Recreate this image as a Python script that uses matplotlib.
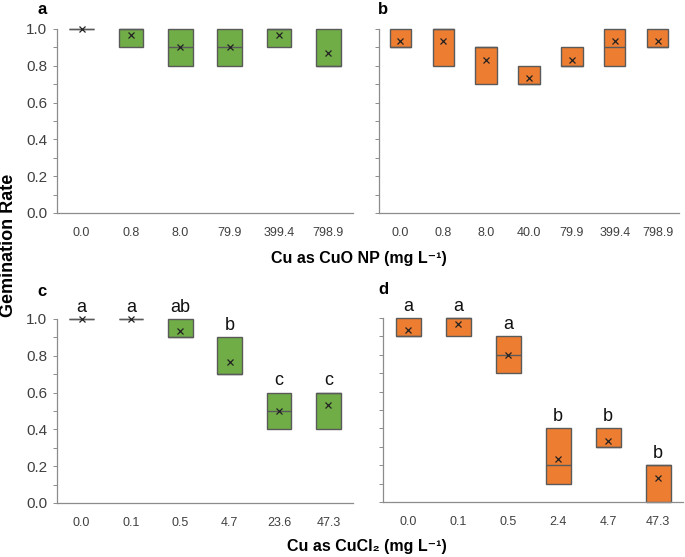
import matplotlib
matplotlib.use("Agg")
import matplotlib.pyplot as plt
from matplotlib.ticker import MultipleLocator
import numpy as np

plt.rcParams['font.family'] = ['Liberation Sans', 'DejaVu Sans']

# ---- data ----
cats_a = ["0.0", "0.8", "8.0", "79.9", "399.4", "798.9"]
q1_a = [1.0, 0.9, 0.8, 0.8, 0.9, 0.8]
med_a = [1.0, 1.0, 0.9, 0.9, 1.0, 0.8]
q3_a = [1.0, 1.0, 1.0, 1.0, 1.0, 1.0]
mean_a = [1.0, 0.967, 0.9, 0.9, 0.967, 0.867]

cats_b = ["0.0", "0.8", "8.0", "40.0", "79.9", "399.4", "798.9"]
q1_b = [0.9, 0.8, 0.7, 0.7, 0.8, 0.8, 0.9]
med_b = [0.9, 1.0, 0.9, 0.7, 0.8, 0.9, 0.9]
q3_b = [1.0, 1.0, 0.9, 0.8, 0.9, 1.0, 1.0]
mean_b = [0.933, 0.933, 0.833, 0.733, 0.833, 0.933, 0.933]

cats_c = ["0.0", "0.1", "0.5", "4.7", "23.6", "47.3"]
q1_c = [1.0, 1.0, 0.9, 0.7, 0.4, 0.4]
med_c = [1.0, 1.0, 0.9, 0.7, 0.5, 0.6]
q3_c = [1.0, 1.0, 1.0, 0.9, 0.6, 0.6]
mean_c = [1.0, 1.0, 0.933, 0.767, 0.5, 0.533]
letters_c = ["a", "a", "ab", "b", "c", "c"]

cats_d = ["0.0", "0.1", "0.5", "2.4", "4.7", "47.3"]
q1_d = [0.9, 0.9, 0.7, 0.1, 0.3, 0.0]
med_d = [0.9, 1.0, 0.8, 0.2, 0.3, 0.2]
q3_d = [1.0, 1.0, 0.9, 0.4, 0.4, 0.2]
mean_d = [0.933, 0.967, 0.8, 0.233, 0.333, 0.133]
letters_d = ["a", "a", "a", "b", "b", "b"]

GREEN = "#70AD47"
ORANGE = "#ED7D31"
EDGE = "#5a5a5a"
SPINE = "#8c8c8c"
TICKC = "#404040"

fig = plt.figure(figsize=(6.85, 5.57), dpi=100)
W, H = 685, 557


def add_ax(left, top, right, bottom):
    return fig.add_axes([left / W, 1 - bottom / H, (right - left) / W, (bottom - top) / H])


def draw(ax, cats, q1, med, q3, mean, color, ylabels, letters=None):
    x = np.arange(len(cats))
    q1 = np.array(q1); q3 = np.array(q3)
    bw = 0.5
    ax.bar(x, q3 - q1, bottom=q1, width=bw, color=color, edgecolor=EDGE,
           linewidth=1.0, zorder=2, clip_on=False)
    ax.hlines(med, x - bw / 2, x + bw / 2, color=EDGE, linewidth=1.0, zorder=3,
              clip_on=False)
    ax.plot(x, mean, linestyle="none", marker="x", color="#222222", markersize=5,
            markeredgewidth=0.9, zorder=4, clip_on=False)
    if letters is not None:
        for xi, top, lab in zip(x, q3, letters):
            ax.text(xi, top + 0.04, lab, ha="center", va="baseline", fontsize=13,
                    color="#111111")
    ax.set_xlim(-0.5, len(cats) - 0.5)
    ax.set_ylim(0, 1.0)
    ax.set_xticks(x)
    ax.set_xticklabels(cats, fontsize=9, color=TICKC)
    ax.tick_params(axis="x", length=0, pad=10)
    ax.yaxis.set_major_locator(MultipleLocator(0.2))
    ax.yaxis.set_minor_locator(MultipleLocator(0.1))
    ax.tick_params(axis="y", which="both", length=3, width=0.7, color=SPINE,
                   labelsize=11, labelcolor=TICKC, pad=4)
    if not ylabels:
        ax.set_yticklabels([])
    else:
        ax.set_yticklabels([f"{v:.1f}" for v in ax.get_yticks()])
    for s in ["top", "right"]:
        ax.spines[s].set_visible(False)
    for s in ["left", "bottom"]:
        ax.spines[s].set_color(SPINE)
        ax.spines[s].set_linewidth(0.9)


ax_a = add_ax(57, 29, 353, 213)
draw(ax_a, cats_a, q1_a, med_a, q3_a, mean_a, GREEN, True)
ax_b = add_ax(379, 29, 679, 213)
draw(ax_b, cats_b, q1_b, med_b, q3_b, mean_b, ORANGE, False)
ax_c = add_ax(57, 319, 353, 503)
draw(ax_c, cats_c, q1_c, med_c, q3_c, mean_c, GREEN, True, letters_c)
ax_d = add_ax(383, 318, 683, 502)
draw(ax_d, cats_d, q1_d, med_d, q3_d, mean_d, ORANGE, False, letters_d)

# panel letters
for lab, px, py in [("a", 42, 9), ("b", 383, 9), ("c", 42, 291), ("d", 383, 290)]:
    fig.text(px / W, 1 - py / H, lab, fontsize=12, fontweight="bold",
             ha="center", va="center")

fig.text(359 / W, 1 - 258 / H, "Cu as CuO NP (mg L\u207b\u00b9)", fontsize=11.5,
         fontweight="bold", ha="center", va="center")
fig.text(367 / W, 1 - 546 / H, "Cu as CuCl\u2082 (mg L\u207b\u00b9)",
         fontsize=11.5, fontweight="bold", ha="center", va="center")
fig.text(9 / W, 1 - 245 / H, "Gemination Rate", fontsize=13, fontweight="bold",
         rotation=90, ha="center", va="center")

fig.savefig("out.png", dpi=100)
